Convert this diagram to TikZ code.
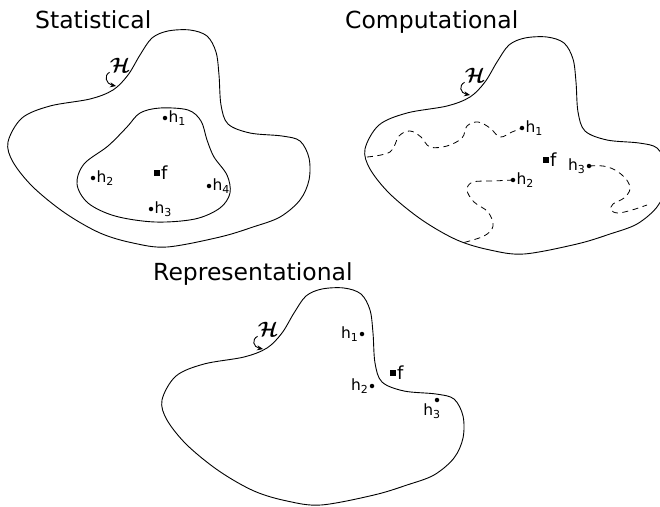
\documentclass[tikz,border=0pt]{standalone}
\usepackage{fontspec}
\setmainfont{DejaVu Sans}
\usepackage{amsmath}
\usepackage{bm}
\usetikzlibrary{arrows.meta}

\newcommand{\hyplabel}[1]{h\textsubscript{\fontsize{11}{13}\selectfont #1}}

\tikzset{
  outline/.style={line width=0.9pt},
  search/.style={line width=0.8pt,dash pattern=on 6pt off 4.5pt},
  dot/.style={circle,fill,inner sep=0pt,minimum size=4.5pt},
  sq/.style={rectangle,fill,inner sep=0pt,minimum size=5.5pt},
  lbl/.style={font=\fontsize{15.5}{18}\selectfont,inner sep=1pt},
  flbl/.style={font=\fontsize{18}{20}\selectfont,inner sep=1pt},
  title/.style={font=\fontsize{23.5}{26}\selectfont,anchor=base west,inner sep=0pt},
  hyp/.style={font=\fontsize{20}{22}\selectfont,inner sep=0pt},
  pointer/.style={-{Stealth[length=6pt,width=5pt]},line width=0.9pt},
  hypspace/.pic={
    \draw[outline] plot[smooth cycle,tension=0.55] coordinates {
      (8,142) (22,118) (50,106) (90,99) (113,90) (128,75) (140,55) (152,38)
      (168,31) (190,30) (207,36) (216,52) (219,75) (221,105) (228,124)
      (250,133) (282,136) (300,141) (309,158) (309,180) (300,200) (280,217)
      (253,227) (220,237) (167,247) (133,243) (100,233) (65,213) (33,187)
      (13,162)};
  }
}

\begin{document}
\begin{tikzpicture}[x=1pt,y=-1pt]
  \useasboundingbox (0,0) rectangle (660,506);
  \clip (0,0) rectangle (660,506);

  % titles
  \node[title] (tstat) at (35,28) {Statistical};
  \node[title] (tcomp) at (345,28) {Computational};
  \node[title] (trep) at (153,280) {Representational};

  % the three hypothesis spaces
  \pic at (0,0) {hypspace};
  \begin{scope}[shift={(357,7)},xscale=0.97]
    \pic {hypspace};
  \end{scope}
  \pic at (154,258) {hypspace};

  % statistical
  \draw[outline] plot[smooth cycle,tension=0.55] coordinates {
    (160,108) (188,110) (201,121) (207,140) (214,157) (227,175) (230,193)
    (220,208) (195,219) (155,222) (115,216) (88,203) (77,184) (84,164)
    (108,146) (127,127) (140,113)};
  \node[dot,label={[lbl]right:\hyplabel{1}}] (sh1) at (165,118) {};
  \node[dot,label={[lbl]right:\hyplabel{2}}] (sh2) at (93,178) {};
  \node[dot,label={[lbl]right:\hyplabel{3}}] (sh3) at (151,209) {};
  \node[dot,label={[lbl]right:\hyplabel{4}}] (sh4) at (209,186) {};
  \node[sq,label={[flbl]right:f}] (sf) at (157,173) {};
  \node[hyp] (shyp) at (120,65) {$\bm{\mathcal{H}}$};
  \coordinate (stip) at (116,86);
  \draw[pointer] (shyp.south west) .. controls +(-6,3) and +(-10,-2) .. (stip);

  % computational
  \node[dot,label={[lbl]right:\hyplabel{1}}] (ch1) at (522,128) {};
  \node[dot,label={[lbl]right:\hyplabel{2}}] (ch2) at (513,180) {};
  \node[dot,label={[lbl]left:\hyplabel{3}}] (ch3) at (589,166) {};
  \node[sq,label={[flbl]right:f}] (cf) at (546,160) {};
  \coordinate (cstart1) at (367,157);
  \coordinate (cend2) at (462,243);
  \coordinate (cend3) at (647,205);
  \draw[search] plot[smooth,tension=0.6] coordinates {
    (cstart1) (390,152) (399,136) (410,131) (421,137) (430,147) (447,146)
    (462,138) (467,126) (478,122) (490,128) (500,137) (512,132) (ch1)};
  \draw[search] plot[smooth,tension=0.6] coordinates {
    (ch2) (493,181) (473,182) (467,190) (474,202) (488,212) (493,226)
    (484,236) (cend2)};
  \draw[search] plot[smooth,tension=0.6] coordinates {
    (ch3) (603,166) (615,170) (626,179) (630,189) (624,198) (613,204)
    (611,210) (618,213) (632,210) (cend3)};
  \node[hyp] (chyp) at (475,75) {$\bm{\mathcal{H}}$};
  \coordinate (ctip) at (470,95);
  \draw[pointer] (chyp.south west) .. controls +(-6,3) and +(-10,-2) .. (ctip);

  % representational
  \node[dot,label={[lbl]left:\hyplabel{1}}] (rh1) at (362,334) {};
  \node[dot,label={[lbl]left:\hyplabel{2}}] (rh2) at (372,386) {};
  \node[dot,label={[lbl,xshift=-5pt]below:\hyplabel{3}}] (rh3) at (437,400) {};
  \node[sq,label={[flbl]right:f}] (rf) at (393,373) {};
  \node[hyp] (rhyp) at (268,329) {$\bm{\mathcal{H}}$};
  \coordinate (rtip) at (263,349);
  \draw[pointer] (rhyp.south west) .. controls +(-6,3) and +(-10,-2) .. (rtip);
\end{tikzpicture}
\end{document}
